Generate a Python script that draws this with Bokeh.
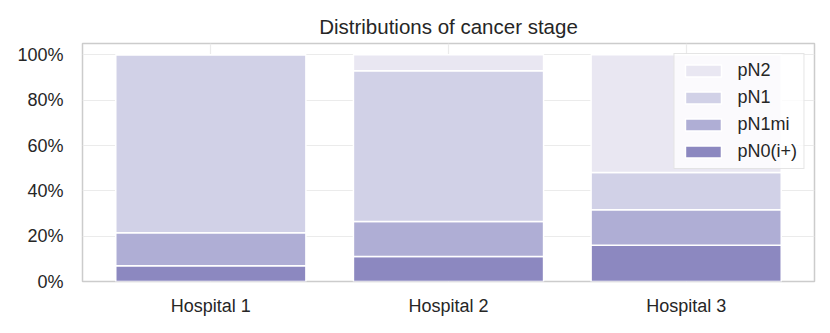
from bokeh.plotting import figure
from bokeh.models import (ColumnDataSource, FactorRange, Range1d, FixedTicker,
                          NumeralTickFormatter, Legend, LegendItem)
from bokeh.embed import file_html
from bokeh.resources import INLINE

hospitals = ["Hospital 1", "Hospital 2", "Hospital 3"]
stage_labels = ["pN0(i+)", "pN1mi", "pN1", "pN2"]
stage_keys = ["pN0i", "pN1mi", "pN1", "pN2"]
pN0i = [0.07, 0.11, 0.16]
pN1mi = [0.145, 0.155, 0.157]
pN1 = [0.785, 0.665, 0.164]
pN2 = [0.0, 0.07, 0.519]
colors = ["#8c88c0", "#afaed5", "#d1d1e7", "#e9e7f2"]
y_ticks = [0, 0.2, 0.4, 0.6, 0.8, 1.0]

FONT = "Liberation Sans"
TXT = "#262626"

source = ColumnDataSource(data={"hospital": hospitals, "pN0i": pN0i,
                                "pN1mi": pN1mi, "pN1": pN1, "pN2": pN2})

p = figure(x_range=FactorRange(*hospitals, range_padding=0.08 / 3),
           y_range=Range1d(0, 1.05), width=824, height=328,
           output_backend="svg", toolbar_location=None,
           min_border_left=82, min_border_right=10, min_border_top=43,
           min_border_bottom=47, title="Distributions of cancer stage")

renderers = p.vbar_stack(stage_keys, x="hospital", width=0.8, fill_color=colors,
                         line_color="white", line_width=1.5, source=source)

items = [LegendItem(label=lab, renderers=[r])
         for lab, r in zip(stage_labels, renderers)][::-1]
legend = Legend(items=items, location="top_right", margin=10, padding=6,
                label_text_font=FONT, label_text_font_size="18px",
                label_text_color=TXT, glyph_width=45, glyph_height=15,
                label_height=18, label_standoff=12, spacing=6,
                border_line_color="#cccccc", border_line_width=1,
                background_fill_color="white", background_fill_alpha=0.8)
p.add_layout(legend, "center")

p.title.text_font = FONT
p.title.text_font_size = "20.5px"
p.title.text_font_style = "normal"
p.title.text_color = TXT
p.title.align = "center"
p.title.standoff = 11

p.yaxis.ticker = FixedTicker(ticks=y_ticks)
p.yaxis.formatter = NumeralTickFormatter(format="0%")
for ax in p.axis:
    ax.axis_line_color = None
    ax.major_tick_line_color = None
    ax.minor_tick_line_color = None
    ax.major_tick_out = 0
    ax.major_tick_in = 0
    ax.major_label_text_font = FONT
    ax.major_label_text_font_size = "18px"
    ax.major_label_text_color = TXT
p.yaxis.major_label_standoff = 19
p.xaxis.major_label_standoff = 14

p.xgrid.grid_line_color = "#ebebeb"
p.ygrid.grid_line_color = "#ebebeb"
p.xgrid.grid_line_width = 1.2
p.ygrid.grid_line_width = 1.2

p.outline_line_color = "#cccccc"
p.outline_line_width = 1.5
p.background_fill_color = "white"
p.border_fill_color = "white"

open("out.html", "w").write(file_html(p, INLINE))
